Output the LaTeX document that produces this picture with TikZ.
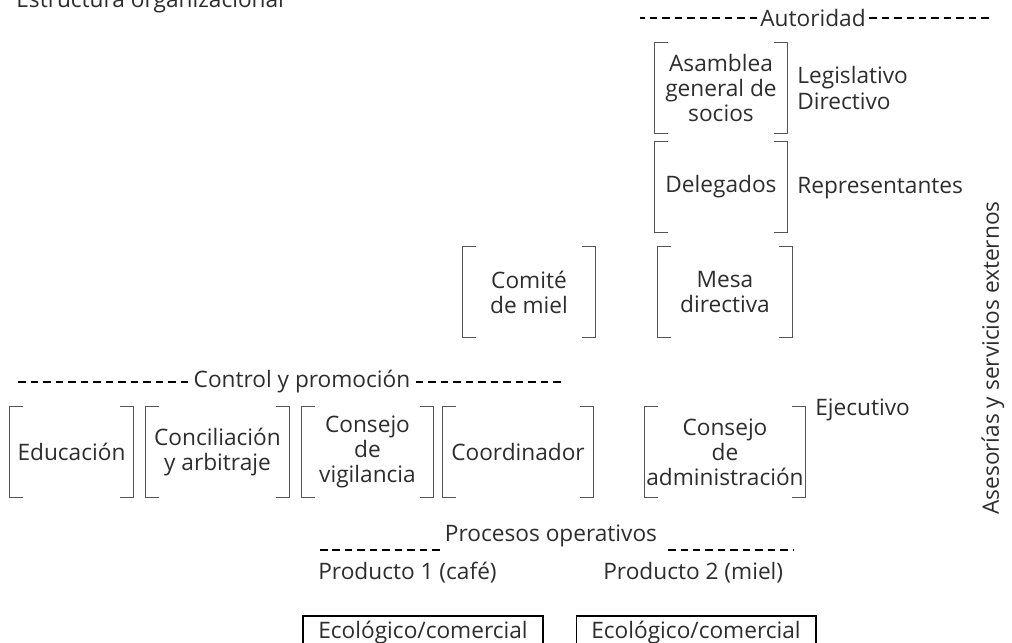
\documentclass[tikz,border=0pt]{standalone}
\usepackage{fontspec}
\setmainfont{Open Sans}
\usetikzlibrary{positioning}
\definecolor{inkgray}{RGB}{45,45,45}
\definecolor{rulegray}{RGB}{85,85,85}
\newcommand{\bracketbox}[4]{
  \node[box, minimum width=#3] (#1) at (#2) {#4};
  \draw[brk] ([xshift=0.26cm]#1.north west) -- (#1.north west)
    -- (#1.south west) -- ([xshift=0.26cm]#1.south west);
  \draw[brk] ([xshift=-0.26cm]#1.north east) -- (#1.north east)
    -- (#1.south east) -- ([xshift=-0.26cm]#1.south east);
}
\tikzset{
  lbl/.style     = {text=inkgray, inner sep=0pt, align=center,
                    font=\fontsize{12.9}{14.3}\selectfont},
  box/.style     = {lbl, minimum height=1.8cm},
  brk/.style     = {draw=rulegray, line width=0.75pt},
  dashline/.style= {draw=black, line width=1.1pt,
                    dash pattern=on 0.15cm off 0.1cm},
  ecobox/.style  = {lbl, draw=black, line width=0.6pt,
                    minimum width=4.8cm, minimum height=0.68cm}
}

\begin{document}
\begin{tikzpicture}[x=0.02cm, y=-0.02cm]
	\useasboundingbox (0,0) rectangle (1012,643);
	\node[lbl, anchor=base west] (title) at (16,7) {Estructura organizacional};
	% autoridad
	\node[lbl] (aut) at (813,18) {Autoridad};
	\draw[dashline] ([xshift=-0.06cm]aut.west) -- ++(-117,0);
	\draw[dashline] ([xshift=0.06cm]aut.east) -- ++(120,0);
	\bracketbox{asam}{721,88}{2.64cm}{Asamblea\\general de\\socios}
	\bracketbox{dele}{721,187}{2.64cm}{Delegados}
	\bracketbox{mesa}{725,292}{2.68cm}{Mesa\\directiva}
	\bracketbox{comi}{529,292}{2.64cm}{Comité\\de miel}
	\node[lbl, anchor=west, align=left] (legis) at (797,88) {Legislativo\\Directivo};
	\node[lbl, anchor=west] (repr) at (797,188) {Representantes};
	% control y promocion
	\node[lbl] (ctrl) at (302,382) {Control y promoción};
	\draw[dashline] ([xshift=-0.1cm]ctrl.west) -- ++(-172,0);
	\draw[dashline] ([xshift=0.1cm]ctrl.east) -- ++(148,0);
	\bracketbox{educ}{71.5,452}{2.46cm}{Educación}
	\bracketbox{conc}{217.5,452}{2.86cm}{Conciliación\\y arbitraje}
	\bracketbox{vigi}{367.5,452}{2.62cm}{Consejo\\de\\vigilancia}
	\bracketbox{coor}{518,452}{3.0cm}{Coordinador}
	\bracketbox{admi}{725,452}{3.2cm}{Consejo\\de\\administración}
	\node[lbl, anchor=west] (ejec) at (815,410) {Ejecutivo};
	\node[lbl, rotate=90] (ases) at (993,358) {Asesorías y servicios externos};
	% procesos operativos
	\node[lbl] (proc) at (551,536) {Procesos operativos};
	\node[lbl, anchor=west] (prod1) at (318,573) {Producto 1 (café)};
	\node[lbl, anchor=west] (prod2) at (603,573) {Producto 2 (miel)};
	\draw[dashline] (prod1.north west) ++(2,-12) -- ++(123,0);
	\draw[dashline] (prod2.north west) ++(65,-12) -- ++(125,0);
	\node[ecobox] (eco1) at (423,633) {Ecológico/comercial};
	\node[ecobox] (eco2) at (696,633) {Ecológico/comercial};
\end{tikzpicture}
\end{document}
